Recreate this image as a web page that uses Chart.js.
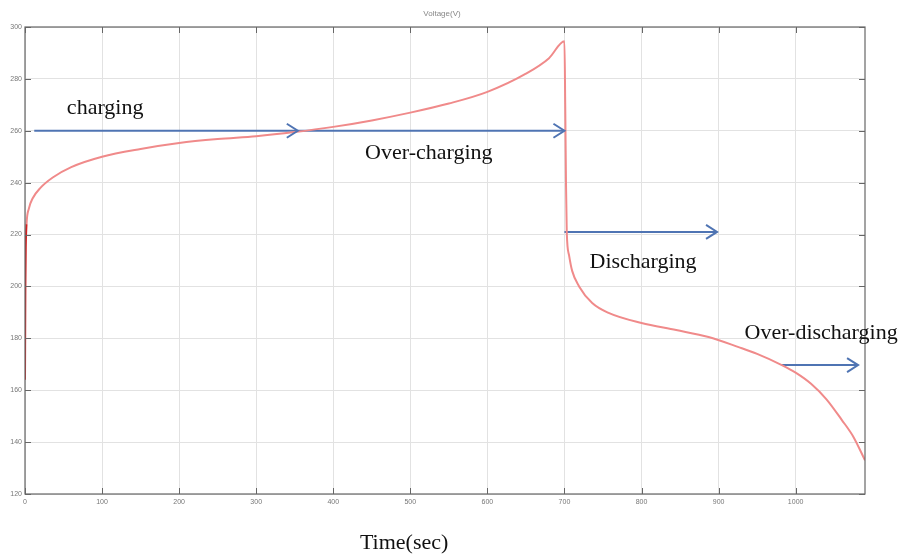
<!DOCTYPE html>
<html>
<head>
<meta charset="utf-8">
<script src="https://cdn.jsdelivr.net/npm/chart.js@4.4.1/dist/chart.umd.min.js"></script>
<style>
  html,body{margin:0;padding:0;background:#fff}
  #wrap{width:902px;height:558px;position:relative}
</style>
</head>
<body>
<div id="wrap"><canvas id="voltChart"></canvas></div>
<script>
// battery voltage vs time
const timeSec = [0, 0.5, 1, 2, 5, 10, 20, 36, 60, 100, 150, 200, 250, 300, 350, 400, 450, 500, 550, 600, 650, 680, 700,
                 701, 702, 703, 706, 710, 719, 736, 758, 800, 845, 887, 926, 950, 982, 1000, 1020, 1040, 1060, 1075, 1090];
const voltage = [164, 200, 215, 224, 230, 234, 238, 242, 246, 250, 253, 255.3, 256.8, 257.9, 259.5, 261.5, 264, 267, 270.5, 275, 282, 288, 294.5,
                 270, 240, 221, 212, 206, 200, 193.6, 189.7, 185.9, 183.2, 180.5, 176.6, 174, 169.7, 166.8, 162.5, 156.5, 148.5, 142, 133];

// phase arrows (start time, end time, voltage level)
const arrowStart = [12, 354, 700, 982];
const arrowEnd   = [354, 700, 898, 1081];
const arrowLevel = [260, 260, 221, 169.7];

// phase labels
const phaseNames = ['charging', 'Over-charging', 'Discharging', 'Over-discharging'];
const phaseT     = [104, 524, 802, 1033];
const phaseV     = [268.8, 251.4, 209.4, 182];

const xTicks = [0, 100, 200, 300, 400, 500, 600, 700, 800, 900, 1000];
const yTicks = [120, 140, 160, 180, 200, 220, 240, 260, 280, 300];

const BLUE = '#4f74b3';
const RED = '#f08a8a';

const arrowSets = arrowStart.map((s, i) => ({
  label: 'arrow' + i,
  data: [{x: s, y: arrowLevel[i]}, {x: arrowEnd[i], y: arrowLevel[i]}],
  borderColor: BLUE,
  borderWidth: 2,
  pointRadius: 0,
  order: 2
}));

const decorPlugin = {
  id: 'decor',
  afterDraw(chart){
    const {ctx, chartArea: a, scales: {x, y}} = chart;
    ctx.save();
    // box + inward ticks (matlab style)
    ctx.strokeStyle = '#666';
    ctx.lineWidth = 1.2;
    ctx.strokeRect(a.left, a.top, a.right - a.left, a.bottom - a.top);
    ctx.lineWidth = 1;
    ctx.beginPath();
    xTicks.forEach(t => {
      const px = Math.round(x.getPixelForValue(t)) + 0.5;
      ctx.moveTo(px, a.bottom); ctx.lineTo(px, a.bottom - 6);
      ctx.moveTo(px, a.top); ctx.lineTo(px, a.top + 6);
    });
    yTicks.forEach(v => {
      const py = Math.round(y.getPixelForValue(v)) + 0.5;
      ctx.moveTo(a.left, py); ctx.lineTo(a.left + 6, py);
      ctx.moveTo(a.right, py); ctx.lineTo(a.right - 6, py);
    });
    ctx.stroke();

    // arrow heads
    ctx.strokeStyle = BLUE;
    ctx.lineWidth = 2;
    arrowEnd.forEach((t, i) => {
      const px = x.getPixelForValue(t), py = y.getPixelForValue(arrowLevel[i]);
      ctx.beginPath();
      ctx.moveTo(px - 11, py - 7);
      ctx.lineTo(px, py);
      ctx.lineTo(px - 11, py + 7);
      ctx.stroke();
    });

    // phase labels
    ctx.fillStyle = '#111';
    ctx.font = '22px "Liberation Serif", "Times New Roman", serif';
    ctx.textAlign = 'center';
    ctx.textBaseline = 'middle';
    phaseNames.forEach((n, i) => {
      ctx.fillText(n, x.getPixelForValue(phaseT[i]), y.getPixelForValue(phaseV[i]));
    });

    // x axis caption
    ctx.fillText('Time(sec)', x.getPixelForValue(492), a.bottom + 49);

    // small plot title
    ctx.fillStyle = '#888';
    ctx.font = '8px "Liberation Sans", Arial, sans-serif';
    ctx.fillText('Voltage(V)', (a.left + a.right) / 2 - 3, 14);
    ctx.restore();
  }
};

new Chart(document.getElementById('voltChart'), {
  type: 'line',
  data: {
    datasets: [{
      label: 'Voltage',
      data: timeSec.map((t, i) => ({x: t, y: voltage[i]})),
      borderColor: RED,
      borderWidth: 2,
      pointRadius: 0,
      cubicInterpolationMode: 'monotone',
      order: 1,
      segment: {
        borderColor: c => c.p1.parsed.x <= 2 ? '#d42020' : RED
      }
    }, ...arrowSets]
  },
  options: {
    responsive: true,
    maintainAspectRatio: false,
    animation: false,
    layout: {padding: {left: 0, top: 27, right: 37, bottom: 44}},
    plugins: {legend: {display: false}, tooltip: {enabled: false}},
    scales: {
      x: {
        type: 'linear', min: 0, max: 1090,
        afterBuildTicks: s => { s.ticks = xTicks.map(v => ({value: v})); },
        afterFit: s => { s.height = 20; },
        grid: {color: '#e2e2e2', drawTicks: false},
        border: {display: false},
        ticks: {color: '#777', padding: 4, font: {size: 7, family: '"Liberation Sans", Arial'}, maxRotation: 0,
                callback: v => String(v)}
      },
      y: {
        type: 'linear', min: 120, max: 300,
        afterBuildTicks: s => { s.ticks = yTicks.map(v => ({value: v})); },
        afterFit: s => { s.width = 25; },
        grid: {color: '#e2e2e2', drawTicks: false},
        border: {display: false},
        ticks: {color: '#777', padding: 3, font: {size: 7, family: '"Liberation Sans", Arial'},
                callback: v => String(v)}
      }
    }
  },
  plugins: [decorPlugin]
});
</script>
</body>
</html>
